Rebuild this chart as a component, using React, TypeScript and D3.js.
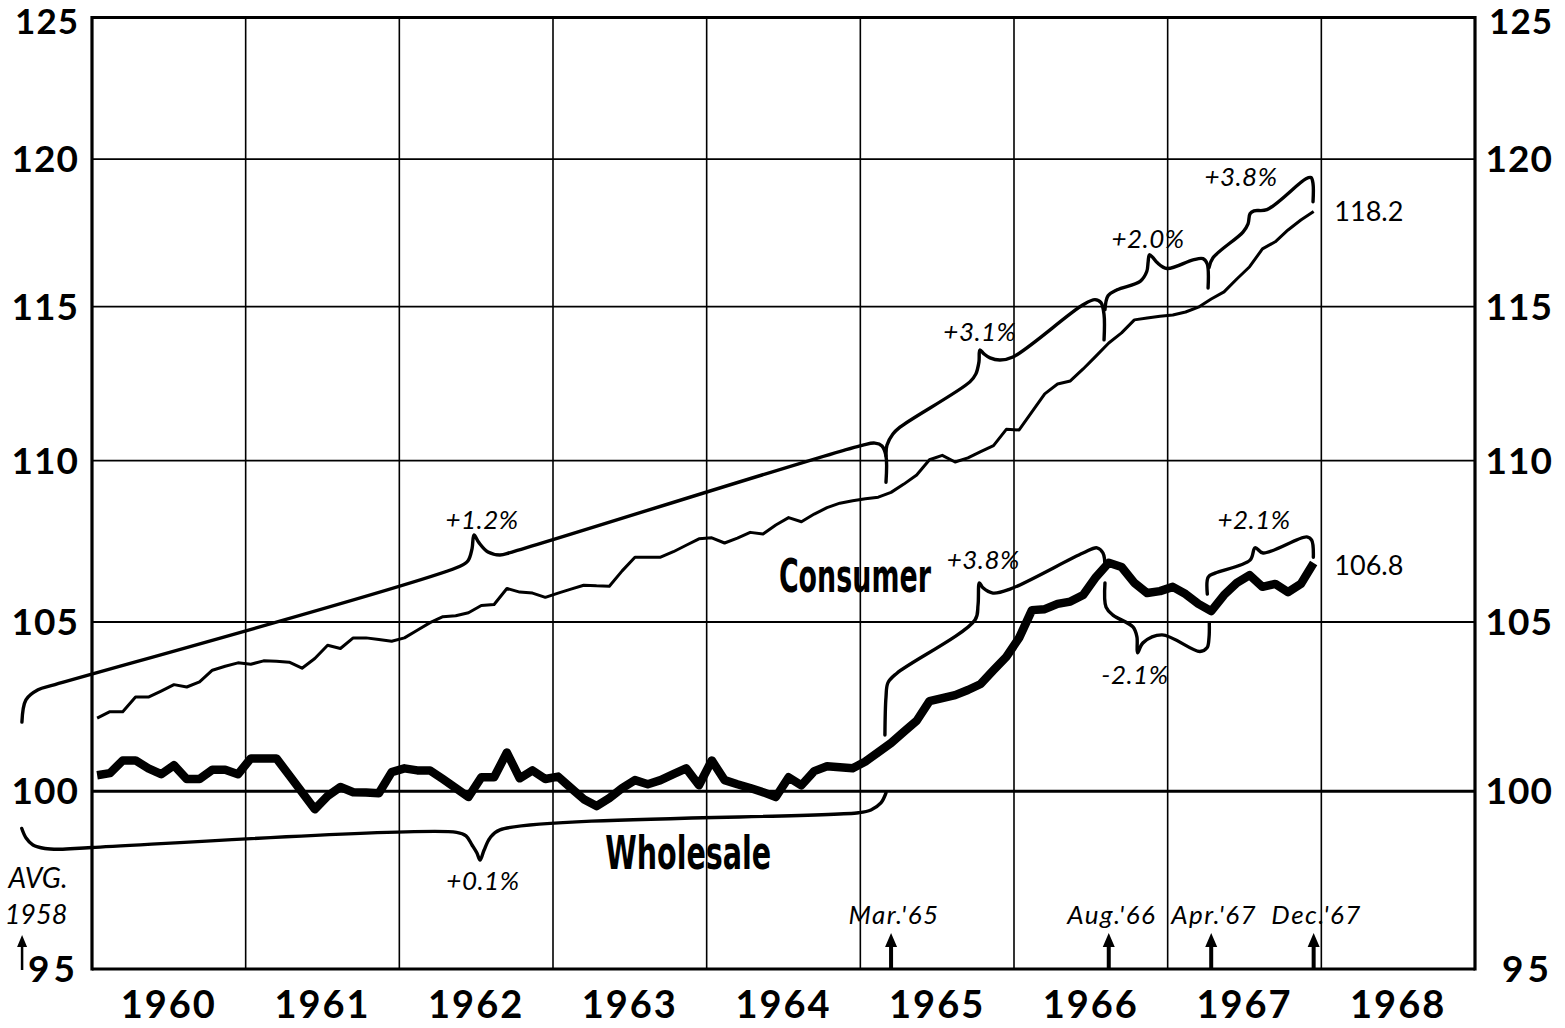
import React from "react";
import * as d3 from "d3";

// ---------- DATA ----------
const YEARS = [1960, 1961, 1962, 1963, 1964, 1965, 1966, 1967, 1968];
const Y_TICKS = [95, 100, 105, 110, 115, 120, 125];

// Consumer price index, monthly Jan 1960 .. Dec 1967 (avg 1958 = 100)
const CONSUMER = [
  102.13, 102.32, 102.32, 102.75, 102.75, 102.93, 103.12, 103.05, 103.2, 103.55, 103.67, 103.77,
  103.73, 103.83, 103.82, 103.79, 103.61, 103.9, 104.3, 104.2, 104.52, 104.52, 104.47, 104.42,
  104.52, 104.75, 104.98, 105.16, 105.19, 105.28, 105.5, 105.53, 106.02, 105.91, 105.88, 105.75,
  105.88, 106.0, 106.12, 106.1, 106.09, 106.56, 106.98, 106.98, 106.98, 107.15, 107.35, 107.55,
  107.58, 107.42, 107.57, 107.75, 107.7, 107.98, 108.21, 108.08, 108.32, 108.52, 108.66, 108.74,
  108.8, 108.85, 109.0, 109.26, 109.55, 110.03, 110.17, 109.96, 110.09, 110.29, 110.48, 111.0,
  110.98, 111.56, 112.14, 112.46, 112.56, 112.95, 113.37, 113.8, 114.13, 114.56, 114.62, 114.68,
  114.72, 114.82, 114.98, 115.25, 115.49, 115.92, 116.33, 116.93, 117.17, 117.57, 117.91, 118.2,
];

// Wholesale price index, monthly Jan 1960 .. Dec 1967
const WHOLESALE = [
  100.46, 100.52, 100.89, 100.89, 100.66, 100.49, 100.75, 100.35, 100.35, 100.62, 100.62, 100.49,
  100.95, 100.95, 100.95, 100.46, 99.97, 99.48, 99.86, 100.12, 99.97, 99.96, 99.94, 100.55,
  100.66, 100.6, 100.6, 100.35, 100.09, 99.83, 100.4, 100.4, 101.12, 100.37, 100.6, 100.35,
  100.42, 100.09, 99.77, 99.57, 99.8, 100.09, 100.32, 100.2, 100.32, 100.49, 100.66, 100.17,
  100.89, 100.32, 100.2, 100.09, 99.97, 99.83, 100.4, 100.17, 100.58, 100.72, 100.69, 100.66,
  100.86, 101.13, 101.4, 101.73, 102.05, 102.63, 102.72, 102.81, 102.96, 103.14, 103.55, 103.95,
  104.52, 105.36, 105.39, 105.55, 105.62, 105.82, 106.37, 106.81, 106.68, 106.19, 105.88, 105.94,
  106.07, 105.85, 105.55, 105.33, 105.82, 106.19, 106.43, 106.07, 106.16, 105.91, 106.16, 106.8,
];

// Growth-rate braces: [decimal year, index value]
const C_BRACE_1: [number, number][] = [
  [1959.544, 102.01], [1959.57, 102.67], [1959.649, 102.97], [1959.759, 103.12],
  [1962.395, 106.7], [1962.447, 106.87], [1962.473, 107.24], [1962.486, 107.67],
  [1962.518, 107.43], [1962.577, 107.14], [1962.655, 107.05], [1962.733, 107.14],
  [1965.011, 110.49], [1965.095, 110.56], [1965.141, 110.47], [1965.167, 110.15], [1965.167, 109.32],
];
const C_BRACE_2: [number, number][] = [
  [1965.167, 110.15], [1965.173, 110.49], [1965.212, 110.85], [1965.258, 111.07],
  [1965.713, 112.53], [1965.752, 112.79], [1965.772, 113.18], [1965.778, 113.57],
  [1965.805, 113.44], [1965.844, 113.31], [1965.909, 113.24], [1965.993, 113.34],
  [1966.449, 115.06], [1966.527, 115.23], [1966.566, 115.13], [1966.586, 114.73], [1966.586, 113.9],
];
const C_BRACE_3: [number, number][] = [
  [1966.592, 114.9], [1966.612, 115.36], [1966.671, 115.56], [1966.821, 115.84],
  [1966.864, 116.17], [1966.873, 116.5], [1966.881, 116.73], [1966.905, 116.63],
  [1966.931, 116.47], [1966.996, 116.27], [1967.165, 116.56], [1967.23, 116.6],
  [1967.257, 116.43], [1967.263, 115.62],
];
const C_BRACE_4: [number, number][] = [
  [1967.269, 116.3], [1967.295, 116.63], [1967.49, 117.5], [1967.523, 117.78],
  [1967.536, 118.12], [1967.562, 118.22], [1967.646, 118.26], [1967.9, 119.32],
  [1967.933, 119.36], [1967.946, 119.15], [1967.946, 118.53],
];
const W_BRACE_1: [number, number][] = [
  [1959.543, 98.93], [1959.571, 98.66], [1959.616, 98.46], [1959.694, 98.36],
  [1959.792, 98.34], [1960.0, 98.39], [1962.373, 98.82], [1962.434, 98.72],
  [1962.473, 98.46], [1962.505, 98.23], [1962.525, 98.03], [1962.551, 98.31],
  [1962.59, 98.66], [1962.655, 98.89], [1964.988, 99.38], [1965.069, 99.46],
  [1965.134, 99.66], [1965.167, 99.95],
];
const W_BRACE_2: [number, number][] = [
  [1965.16, 101.63], [1965.167, 102.75], [1965.18, 103.18], [1965.238, 103.46],
  [1965.746, 105.06], [1965.766, 105.52], [1965.775, 106.19], [1965.798, 106.04],
  [1965.863, 105.88], [1965.974, 106.0], [1966.449, 107.11], [1966.54, 107.27],
  [1966.579, 107.11], [1966.592, 106.68],
];
const W_BRACE_3: [number, number][] = [
  [1966.592, 106.19], [1966.599, 105.45], [1966.644, 105.21], [1966.774, 104.85],
  [1966.8, 104.55], [1966.804, 104.07], [1966.839, 104.37], [1966.963, 104.61],
  [1967.21, 104.11], [1967.256, 104.22], [1967.269, 104.52], [1967.271, 104.97],
];
const W_BRACE_4: [number, number][] = [
  [1967.258, 105.85], [1967.264, 106.37], [1967.308, 106.49], [1967.536, 106.89],
  [1967.569, 107.27], [1967.621, 107.11], [1967.905, 107.61], [1967.937, 107.51],
  [1967.948, 106.98],
];

// Percent labels: [text, decimal year (center), value (baseline)]
const PCT_LABELS: [string, number, number][] = [
  ["+1.2%", 1962.538, 107.85],
  ["+0.1%", 1962.544, 97.19],
  ["+3.1%", 1965.778, 113.87],
  ["+2.0%", 1966.872, 116.96],
  ["+3.8%", 1967.477, 119.08],
  ["+3.8%", 1965.8, 106.62],
  ["-2.1%", 1966.787, 103.14],
  ["+2.1%", 1967.562, 107.85],
];

// Turning-point markers: [label, year, month index]
const MARKERS: [string, number, number][] = [
  ["Mar.'65", 1965, 2],
  ["Aug.'66", 1966, 7],
  ["Apr.'67", 1967, 3],
  ["Dec.'67", 1967, 11],
];

// Series name labels: [text, left decimal year, baseline value, width]
const SERIES_NAMES: [string, number, number, number][] = [
  ["Consumer", 1964.47, 105.9, 152],
  ["Wholesale", 1963.34, 97.78, 166],
];

const FONT = "Lato, 'Open Sans', 'DejaVu Sans', sans-serif";
const COND = "'DejaVu Sans Condensed', 'DejaVu Sans', sans-serif";

export default function App() {
  const W = 1565;
  const H = 1028;
  const x = d3.scaleLinear().domain([1960, 1969]).range([92, 1475]);
  const y = d3.scaleLog().domain([95, 125]).range([969, 17.5]);
  const mDate = (i: number) => 1960 + (i + 0.4) / 12;

  const seriesLine = d3
    .line<number>()
    .x((_, i) => x(mDate(i)))
    .y((v) => y(v));
  const braceLine = d3
    .line<[number, number]>()
    .x((d) => x(d[0]))
    .y((d) => y(d[1]))
    .curve(d3.curveCatmullRom.alpha(0.5));

  const braces = [C_BRACE_1, C_BRACE_2, C_BRACE_3, C_BRACE_4, W_BRACE_1, W_BRACE_2, W_BRACE_3, W_BRACE_4];
  const x0 = x(1960);
  const x1 = x(1969);
  const yTop = y(125);
  const yBot = y(95);

  const arrow = (ax: number, top: number, bottom: number, hw: number, hh: number, sw: number) =>
    `M${ax - sw / 2},${bottom} L${ax - sw / 2},${top + hh} L${ax - hw},${top + hh} L${ax},${top} L${ax + hw},${top + hh} L${ax + sw / 2},${top + hh} L${ax + sw / 2},${bottom} Z`;

  const labelY = (t: number) => y(t) + (t === 125 ? 4 : 0);
  const SX = 0.72;

  return (
    <svg
      width={W}
      height={H}
      viewBox={`0 0 ${W} ${H}`}
      style={{ position: "absolute", left: 0, top: 0, background: "#fff" }}
    >
      <rect x={0} y={0} width={W} height={H} fill="#fff" />
      {/* vertical gridlines */}
      {YEARS.slice(1).map((yr) => (
        <line key={"vg" + yr} x1={x(yr)} x2={x(yr)} y1={yTop} y2={yBot} stroke="#000" strokeWidth={1.6} />
      ))}
      {/* horizontal gridlines */}
      {Y_TICKS.map((t) => (
        <line
          key={"hg" + t}
          x1={x0}
          x2={x1}
          y1={y(t)}
          y2={y(t)}
          stroke="#000"
          strokeWidth={t === 100 ? 3 : t === 95 || t === 125 ? 3.2 : 1.8}
        />
      ))}
      {/* frame sides */}
      <line x1={x0} x2={x0} y1={yTop - 1.5} y2={yBot + 1.5} stroke="#000" strokeWidth={3.2} />
      <line x1={x1} x2={x1} y1={yTop - 1.5} y2={yBot + 1.5} stroke="#000" strokeWidth={3.2} />

      {/* y labels */}
      {Y_TICKS.map((t) => (
        <g key={"yl" + t} fontFamily={FONT} fontWeight={700} fontSize={t === 125 ? 35 : 37} fill="#000">
          <text x={79} y={labelY(t)} dy="0.36em" textAnchor="end" letterSpacing={t === 95 ? 4 : 1}>
            {t}
          </text>
          <text x={1553} y={labelY(t)} dy="0.36em" textAnchor="end" letterSpacing={t === 95 ? 4 : 1}>
            {t}
          </text>
        </g>
      ))}
      {/* x labels */}
      {YEARS.map((yr) => (
        <text
          key={"xl" + yr}
          x={x(yr + 0.5)}
          y={1018}
          textAnchor="middle"
          fontFamily={FONT}
          fontWeight={700}
          fontSize={38}
          letterSpacing={2}
          fill="#000"
        >
          {yr}
        </text>
      ))}

      {/* braces */}
      {braces.map((b, i) => (
        <path
          key={"br" + i}
          d={braceLine(b) || ""}
          fill="none"
          stroke="#000"
          strokeWidth={3.4}
          strokeLinecap="round"
          strokeLinejoin="round"
        />
      ))}

      {/* series */}
      <path d={seriesLine(CONSUMER) || ""} fill="none" stroke="#000" strokeWidth={3} strokeLinejoin="round" />
      <path
        d={seriesLine(WHOLESALE) || ""}
        fill="none"
        stroke="#000"
        strokeWidth={8.5}
        strokeLinejoin="round"
        strokeLinecap="butt"
      />

      {/* percent labels */}
      {PCT_LABELS.map(([t, yr, v], i) => (
        <text
          key={"pl" + i}
          x={x(yr)}
          y={y(v)}
          textAnchor="middle"
          fontFamily={FONT}
          fontStyle="italic"
          fontSize={26}
          letterSpacing={0.5}
          fill="#000"
        >
          {t}
        </text>
      ))}

      {/* end values */}
      <text x={x(1968) + 13} y={y(CONSUMER[CONSUMER.length - 1])} dy="0.36em" fontFamily={FONT} fontSize={27} fill="#000">
        {CONSUMER[CONSUMER.length - 1].toFixed(1)}
      </text>
      <text x={x(1968) + 13} y={y(WHOLESALE[WHOLESALE.length - 1]) + 2} dy="0.36em" fontFamily={FONT} fontSize={27} fill="#000">
        {WHOLESALE[WHOLESALE.length - 1].toFixed(1)}
      </text>

      {/* series names (condensed bold) */}
      {SERIES_NAMES.map(([t, yr, v, w]) => (
        <g key={t} transform={`translate(${x(yr)},${y(v)}) scale(${SX},1)`}>
          <text
            x={0}
            y={0}
            fontFamily={COND}
            fontWeight={700}
            fontSize={46}
            textLength={w / SX}
            lengthAdjust="spacingAndGlyphs"
            fill="#000"
          >
            {t}
          </text>
        </g>
      ))}

      {/* base period note */}
      <text x={38} y={888} textAnchor="middle" fontFamily={FONT} fontStyle="italic" fontSize={28} fill="#000">
        AVG.
      </text>
      <text x={36} y={924} textAnchor="middle" fontFamily={FONT} fontStyle="italic" fontSize={27} fill="#000">
        1958
      </text>
      <path d={arrow(x(1959.545), 935, yBot + 1, 5, 12, 2.5)} fill="#000" />

      {/* turning-point markers */}
      {MARKERS.map(([label, yr, m]) => {
        const mx = x(yr + (m + 0.4) / 12);
        return (
          <g key={label}>
            <text
              x={mx + 3}
              y={924}
              textAnchor="middle"
              fontFamily={FONT}
              fontStyle="italic"
              fontSize={26}
              letterSpacing={1.5}
              fill="#000"
            >
              {label}
            </text>
            <path d={arrow(mx, 933, yBot, 6, 14, 4)} fill="#000" />
          </g>
        );
      })}
    </svg>
  );
}
